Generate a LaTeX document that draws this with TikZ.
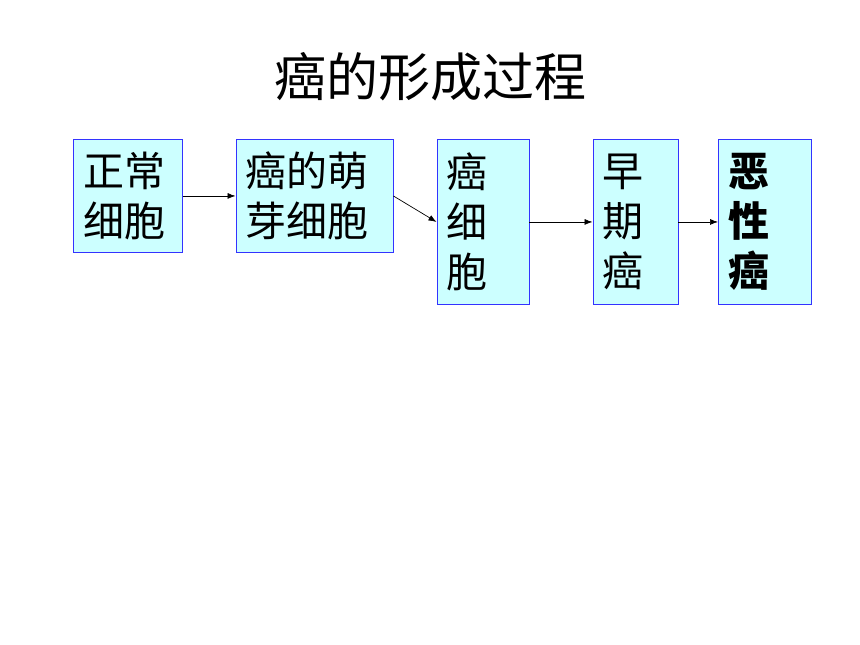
\documentclass[tikz,border=0pt]{standalone}
\usepackage{fontspec}
\newfontfamily\cjk{Noto Sans CJK SC}
\usetikzlibrary{arrows.meta}
\definecolor{boxfill}{HTML}{CCFFFF}
\definecolor{boxline}{HTML}{3333FF}
\tikzset{
  stagebox/.style={draw=boxline, fill=boxfill, line width=0.9pt, anchor=north west,
    inner xsep=10pt, inner ysep=0pt, align=left,
    font=\cjk\fontsize{41}{50}\selectfont},
  flow/.style={draw=black, line width=0.7pt, -{Latex[length=8pt,width=6pt]}}
}
\begin{document}
\begin{tikzpicture}[x=1pt,y=1pt]
\useasboundingbox (0,0) rectangle (860,-645);
\node[font=\cjk\fontsize{52}{60}\selectfont] (title) at (430,-77) {癌的形成过程};
\node[stagebox, minimum width=109pt, minimum height=113pt, text width=89pt] (b1) at (73,-139) {正常\\细胞};
\node[stagebox, minimum width=157pt, minimum height=113pt, text width=137pt] (b2) at (235.5,-139) {癌的萌\\芽细胞};
\node[stagebox, minimum width=92pt, minimum height=165pt, text width=72pt] (b3) at (436.5,-139) {癌\\细\\胞};
\node[stagebox, minimum width=85pt, minimum height=165pt, text width=65pt] (b4) at (592.5,-139) {早\\期\\癌};
\node[stagebox, minimum width=92.5pt, minimum height=165pt, text width=72.5pt, font=\cjk\bfseries\fontsize{41}{50}\selectfont] (b5) at (718,-139) {恶\\性\\癌};
\draw[flow] (b1.east) -- (b2.west);
\draw[flow] (b2.east) -- (b3.west);
\draw[flow] (b3.east) -- (b4.west);
\draw[flow] (b4.east) -- (b5.west);
\end{tikzpicture}
\end{document}
